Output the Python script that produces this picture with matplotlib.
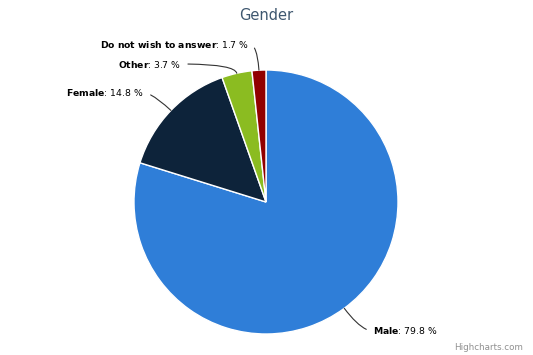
import numpy as np
import matplotlib
matplotlib.use("Agg")
import matplotlib.pyplot as plt

labels=["Male","Female","Other","Do not wish to answer"]
values=[79.8,14.8,3.7,1.7]
colors=["#2f7ed8","#0d233a","#8bbc21","#910000"]
# where each label text sits (pixel coords, y from top)
label_pos=[(373,331),(143,93),(180,64),(248,44)]

W,H=533,355
fig=plt.figure(figsize=(W/100,H/100),dpi=100)
ax=fig.add_axes([0,0,1,1])
ax.set_xlim(0,W);ax.set_ylim(0,H);ax.set_aspect("equal");ax.axis("off")

cx,cy,r=266,H-202,132
wedges,_=ax.pie(values,colors=colors,startangle=90,counterclock=False,
                center=(cx,cy),radius=r,frame=True,
                wedgeprops=dict(edgecolor="white",linewidth=1))
ax.set_xlim(0,W);ax.set_ylim(0,H);ax.axis("off")

for w,lab,v,(tx,ty) in zip(wedges,labels,values,label_pos):
    ang=np.deg2rad((w.theta1+w.theta2)/2)
    px,py=cx+r*np.cos(ang),cy+r*np.sin(ang)
    name=lab.replace(" ",r"\ ")
    s=r"$\bf{"+name+"}$: %.1f %%"%v
    ha="left" if tx>cx else "right"
    lx=tx if ha=="left" else tx+1
    ax.annotate(s,xy=(px,py),xytext=(lx,H-ty),textcoords="data",
                ha=ha,va="center",fontsize=6.7,color="#000000",
                arrowprops=dict(arrowstyle="-",color="#333333",lw=0.8,
                                connectionstyle="angle3,angleA=0,angleB=%d"%(np.rad2deg(ang)),
                                shrinkA=3,shrinkB=0,relpos=(0,0.5) if ha=="left" else (1,0.5)))

ax.text(W/2,H-15,"Gender",ha="center",va="center",fontsize=10.5,color="#3e576f")
ax.text(W-10,H-348,"Highcharts.com",ha="right",va="center",fontsize=6.3,color="#909090")

plt.savefig("out.png",dpi=100)
